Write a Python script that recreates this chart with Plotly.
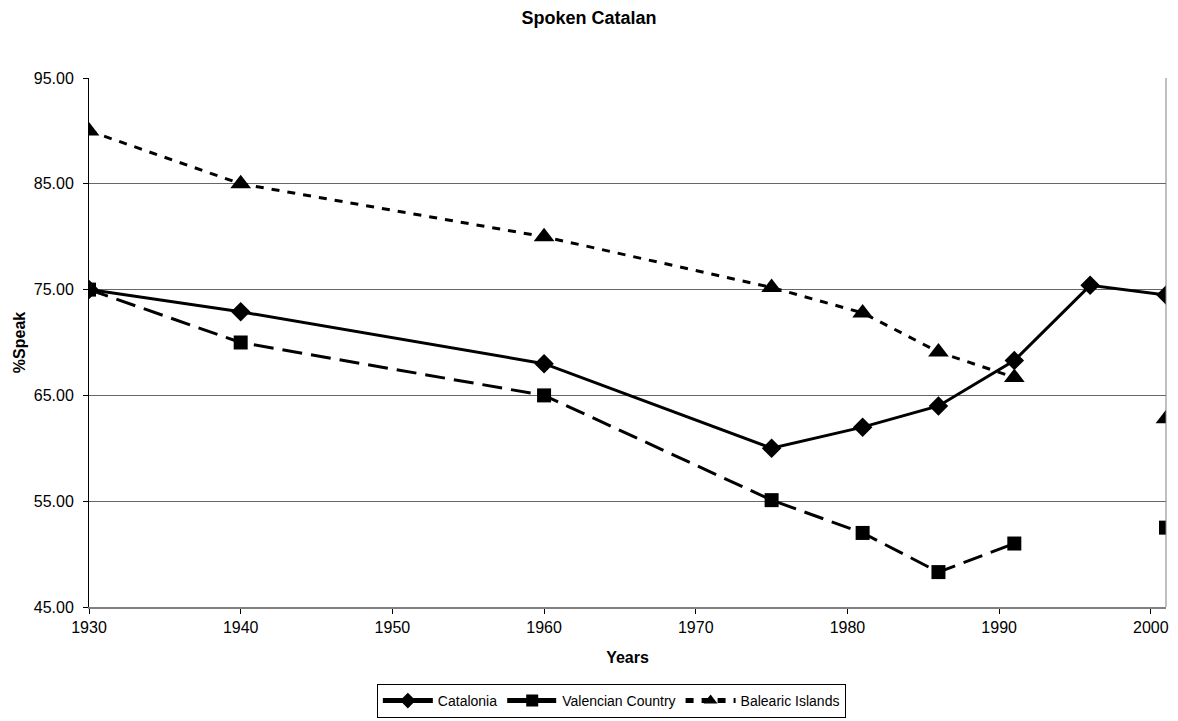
import plotly.graph_objects as go

years = [1930, 1940, 1960, 1975, 1981, 1986, 1991, 1996, 2001]
catalonia = [75.0, 72.9, 68.0, 60.0, 62.0, 64.0, 68.3, 75.4, 74.5]
valencian = [75.0, 70.0, 65.0, 55.1, 52.0, 48.3, 51.0, None, 52.5]
balearic = [90.0, 85.0, 80.0, 75.2, 72.8, 69.1, 66.7, None, 62.8]

y_ticks = [45, 55, 65, 75, 85, 95]
x_ticks = [1930, 1940, 1950, 1960, 1970, 1980, 1990, 2000]

FONT = "Liberation Sans, Arial, sans-serif"

fig = go.Figure()
fig.add_trace(go.Scatter(
    x=years, y=catalonia, name="Catalonia", mode="lines+markers",
    line=dict(color="black", width=3, dash="solid"),
    marker=dict(symbol="diamond", size=15, color="black"),
    connectgaps=False))
fig.add_trace(go.Scatter(
    x=years, y=valencian, name="Valencian Country", mode="lines+markers",
    line=dict(color="black", width=3, dash="20px,9px"),
    marker=dict(symbol="square", size=14, color="black"),
    connectgaps=False))
fig.add_trace(go.Scatter(
    x=years, y=balearic, name="Balearic Islands", mode="lines+markers",
    line=dict(color="black", width=3, dash="8px,8px"),
    marker=dict(symbol="triangle-up", size=18, color="black"),
    connectgaps=False))

fig.update_layout(
    width=1178, height=721,
    margin=dict(l=89, r=12, t=78, b=114, autoexpand=False),
    paper_bgcolor="white", plot_bgcolor="white",
    font=dict(family=FONT, size=16, color="black"),
    title=dict(text="<b>Spoken Catalan</b>", x=0.5, xanchor="center",
               y=1 - 18 / 721, yanchor="middle", font=dict(size=18)),
    showlegend=True,
    legend=dict(orientation="h", x=0.485, xanchor="center",
                y=(607 - 701) / 529, yanchor="middle",
                bordercolor="black", borderwidth=1, bgcolor="white",
                font=dict(size=14), itemwidth=50,
                tracegroupgap=0, itemsizing="constant"),
)

fig.update_xaxes(
    range=[1930, 2001], tickvals=x_ticks, ticktext=[str(v) for v in x_ticks],
    showgrid=False, zeroline=False,
    showline=True, linecolor="#808080", linewidth=2, mirror=False,
    ticks="outside", ticklen=5, tickcolor="black",
    title=dict(text="<b>Years</b>", standoff=17, font=dict(size=16)),
)
fig.update_yaxes(
    range=[45, 95], tickvals=y_ticks, ticktext=["%.2f" % v for v in y_ticks],
    showgrid=True, gridcolor="#666666", gridwidth=1, zeroline=False,
    showline=True, linecolor="black", linewidth=1,
    ticks="outside", ticklen=5, tickcolor="black", ticklabelstandoff=6,
    title=dict(text="<b>%Speak</b>", standoff=4, font=dict(size=16)),
)

# right border of plot area
fig.add_shape(type="line", xref="paper", yref="paper", x0=1, x1=1, y0=0, y1=1,
              line=dict(color="#808080", width=1))

fig.write_html("out.html", config={"displayModeBar": False},
               post_script="document.body.style.margin='0';document.body.style.overflow='hidden';")
